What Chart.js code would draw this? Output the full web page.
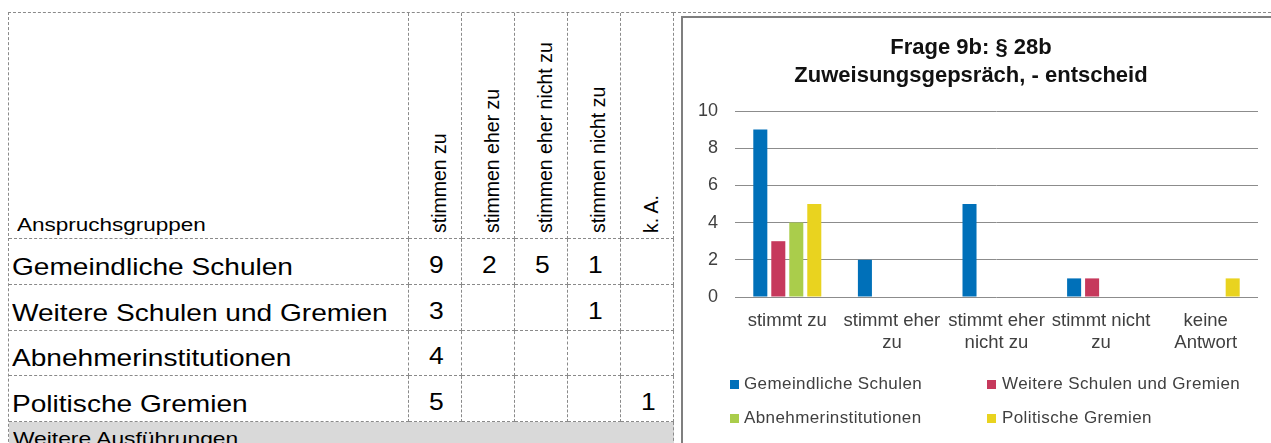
<!DOCTYPE html>
<html lang="de">
<head>
<meta charset="UTF-8" />
<title>Frage 9b: § 28b</title>
<style>
  html,body{margin:0;padding:0;background:#fff;}
  body{width:1271px;height:443px;overflow:hidden;position:relative;font-family:"Liberation Sans",Arial,sans-serif;color:#000;}
  .topline{position:absolute;left:673px;top:12px;width:598px;border-top:1px dashed #8a8a8a;}
  #tbl{position:absolute;left:8px;top:12px;display:grid;
       grid-template-columns:400px 53px 53px 53px 53px 53px;
       grid-template-rows:226px 46px 46px 45px 46px 40px;
       border-left:1px dashed #8a8a8a;border-top:1px dashed #8a8a8a;}
  #tbl > div{box-sizing:border-box;border-right:1px dashed #8a8a8a;border-bottom:1px dashed #8a8a8a;position:relative;}
  #tbl span.w{display:inline-block;white-space:nowrap;transform-origin:left bottom;}
  .head0{font-size:18px;display:flex;align-items:flex-end;padding:0 0 2px 8px;}
  .head0 span.w{transform:scaleX(1.25);}
  .vhead span{position:absolute;left:21px;top:220px;transform-origin:0 0;transform:rotate(-90deg);
              white-space:nowrap;font-size:19.5px;line-height:1;}
  .rowlab{font-size:24px;display:flex;align-items:flex-end;padding:0 0 4px 3px;line-height:27px;}
  .rowlab span.w{transform:scaleX(1.17);}
  .num{font-size:23px;display:flex;align-items:flex-end;justify-content:center;padding-bottom:5px;line-height:27px;}
  .num span.w{transform:scaleX(1.15);transform-origin:center bottom;}
  .more{grid-column:1 / -1;background:#d9d9d9;font-size:19px;padding:6px 0 0 4px;}
  .more span.w{transform:scaleX(1.2);}
  #frame{position:absolute;left:681px;top:16px;width:700px;height:500px;border-left:2px solid #7f7f7f;border-top:2px solid #7f7f7f;}
  #chartBox{position:absolute;left:684px;top:19px;width:587px;height:360px;}
  #legend{position:absolute;left:730px;top:373px;display:grid;grid-template-columns:257px 260px;grid-auto-rows:34px;
          font-size:17px;color:#404040;}
  #legend div{display:flex;align-items:center;height:22px;white-space:nowrap;letter-spacing:0.4px;}
  #legend i{display:inline-block;width:9px;height:9px;margin-right:5px;}
  #legend div:nth-child(even) i{margin-right:6px;}
</style>
<script src="https://cdn.jsdelivr.net/npm/chart.js"></script>
</head>
<body>
<div class="topline"></div>
<div id="tbl"></div>
<div id="frame"></div>
<div id="chartBox"><canvas id="chart" width="587" height="360"></canvas></div>
<div id="legend"></div>

<script>
/* ====== Daten ====== */
const categories = ['stimmt zu', ['stimmt eher','zu'], ['stimmt eher','nicht zu'], ['stimmt nicht','zu'], ['keine','Antwort']];
const tableHeads = ['stimmen zu','stimmen eher zu','stimmen eher nicht zu','stimmen nicht zu','k. A.'];
const groups     = ['Gemeindliche Schulen','Weitere Schulen und Gremien','Abnehmerinstitutionen','Politische Gremien'];
const colors     = ['#0070b9','#c6395c','#aacd4b','#e9d31f'];

const gemeindlicheSchulen = [9,2,5,1,0];
const weitereSchulen      = [3,0,0,1,0];
const abnehmer            = [4,0,0,0,0];
const politischeGremien   = [5,0,0,0,1];
const series = [gemeindlicheSchulen, weitereSchulen, abnehmer, politischeGremien];

const yMin = 0, yMax = 10, yStep = 2;
const titleLines = ['Frage 9b: § 28b', 'Zuweisungsgepsräch, - entscheid'];

/* ====== Tabelle ====== */
const tbl = document.getElementById('tbl');
function cell(cls, html){ const d=document.createElement('div'); d.className=cls; d.innerHTML=html; tbl.appendChild(d); }
const w = t => '<span class="w">'+t+'</span>';
cell('head0', w('Anspruchsgruppen'));
tableHeads.forEach(h => cell('vhead','<span>'+h+'</span>'));
groups.forEach((g,i) => {
  cell('rowlab', w(g));
  series[i].forEach(v => cell('num', v ? w(v) : ''));
});
cell('more', w('Weitere Ausführungen'));

/* ====== Legende ====== */
const leg = document.getElementById('legend');
groups.forEach((g,i) => {
  const d = document.createElement('div');
  d.innerHTML = '<i style="background:'+colors[i]+'"></i>'+g;
  leg.appendChild(d);
});

/* ====== Diagramm ====== */
const font = '"Liberation Sans", Arial, sans-serif';
new Chart(document.getElementById('chart'), {
  type: 'bar',
  data: {
    labels: categories,
    datasets: groups.map((g,i) => ({
      label: g, data: series[i], backgroundColor: colors[i], borderWidth: 0,
      categoryPercentage: 0.688, barPercentage: 0.78
    }))
  },
  options: {
    responsive: false, animation: false, devicePixelRatio: 1,
    layout: { padding: { left: 0, right: 13, top: 0, bottom: 12 } },
    plugins: {
      legend: { display: false },
      tooltip: { enabled: false },
      title: {
        display: true, text: titleLines, color: '#111',
        font: { family: font, size: 22, weight: 'bold', lineHeight: 28/22 },
        padding: { top: 15, bottom: 21 }
      }
    },
    scales: {
      x: {
        grid: { display: false, drawTicks: false },
        border: { display: false },
        ticks: { color: '#404040', font: { family: font, size: 18.5, lineHeight: 22/18.5 },
                 padding: 13, autoSkip: false, maxRotation: 0, minRotation: 0 }
      },
      y: {
        min: yMin, max: yMax,
        grid: { color: '#8c8c8c', lineWidth: 1, drawTicks: false },
        border: { display: false },
        ticks: { stepSize: yStep, color: '#404040', font: { family: font, size: 18 }, padding: 17 },
        afterFit(scale){ scale.width = 51; }
      }
    }
  }
});
</script>
</body>
</html>
